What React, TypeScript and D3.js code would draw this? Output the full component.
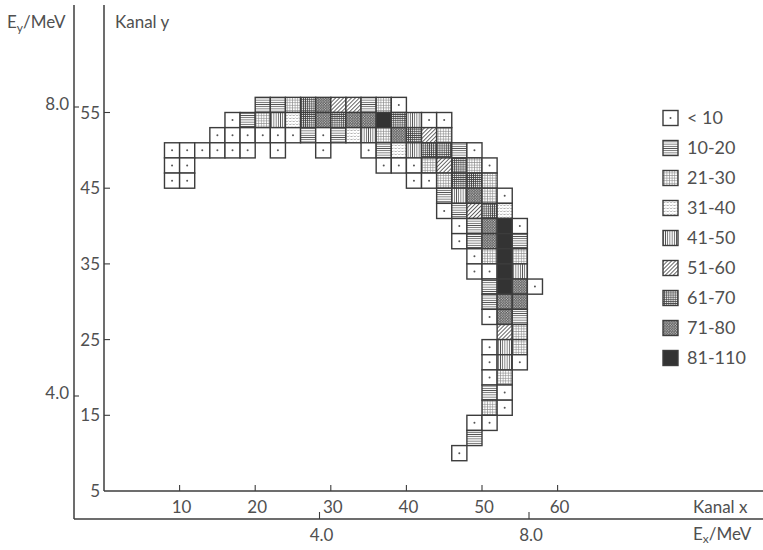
import React from "react";
import * as d3 from "d3";

// Legend classes (counts per 2x2-channel bin)
const levelLabels = ["< 10", "10-20", "21-30", "31-40", "41-50", "51-60", "61-70", "71-80", "81-110"];

// Axis ticks
const xChannelTicks = [10, 20, 30, 40, 50, 60];
const yChannelTicks = [55, 45, 35, 25, 15];
const exTicks = [4.0, 8.0];
const eyTicks = [8.0, 4.0];

// Rows of bins: lower y channel of each row, and [lower x channel, class index]
const rowChannels = [55, 53, 51, 49, 47, 45, 43, 41, 39, 37, 35, 33, 31, 29, 27, 25, 23, 21, 19, 17, 15, 13, 11, 9];
const rowBins: number[][][] = [
  [[20, 1], [22, 1], [24, 2], [26, 6], [28, 7], [30, 5], [32, 5], [34, 1], [36, 2], [38, 0]],
  [[16, 0], [18, 1], [20, 2], [22, 4], [24, 3], [26, 6], [28, 7], [30, 6], [32, 7], [34, 7], [36, 8], [38, 6], [40, 4], [42, 0], [44, 0]],
  [[14, 0], [16, 0], [18, 0], [20, 0], [22, 0], [24, 0], [26, 1], [28, 0], [30, 1], [32, 3], [34, 4], [36, 2], [38, 7], [40, 6], [42, 5], [44, 2]],
  [[8, 0], [10, 0], [12, 0], [14, 0], [16, 0], [18, 0], [22, 0], [28, 0], [34, 0], [36, 1], [38, 3], [40, 4], [42, 6], [44, 6], [46, 1], [48, 0]],
  [[8, 0], [10, 0], [36, 0], [38, 0], [40, 0], [42, 2], [44, 5], [46, 6], [48, 2], [50, 0]],
  [[8, 0], [10, 0], [40, 0], [42, 0], [44, 2], [46, 6], [48, 6], [50, 2]],
  [[44, 1], [46, 4], [48, 7], [50, 2], [52, 0]],
  [[44, 0], [46, 1], [48, 5], [50, 6], [52, 3]],
  [[46, 0], [48, 1], [50, 7], [52, 8], [54, 0]],
  [[46, 0], [48, 1], [50, 7], [52, 8], [54, 1]],
  [[48, 0], [50, 2], [52, 8], [54, 2]],
  [[48, 0], [50, 0], [52, 8], [54, 4]],
  [[50, 1], [52, 8], [54, 7], [56, 0]],
  [[50, 1], [52, 7], [54, 7]],
  [[50, 0], [52, 7], [54, 1]],
  [[52, 5], [54, 2]],
  [[50, 0], [52, 4], [54, 2]],
  [[50, 0], [52, 4], [54, 0]],
  [[50, 0], [52, 2]],
  [[50, 1], [52, 0]],
  [[50, 2], [52, 0]],
  [[48, 0], [50, 0]],
  [[48, 1]],
  [[46, 0]],
];

const W = 763;
const H = 550;
const FONT = "Lato, 'Open Sans', sans-serif";
const INK = "#3c3c3c";
const TXT = "#505050";

const xS = d3.scaleLinear().domain([0, 60]).range([104, 104 + 60 * 7.56]);
const yS = d3.scaleLinear().domain([5, 55]).range([491, 491 - 50 * 7.57]);
const exS = d3.scaleLinear().domain([4, 8]).range([319.5, 529]);
const eyS = d3.scaleLinear().domain([4, 8]).range([396, 107]);

const innerX = xS(0);
const innerY = yS(5);
const outerX = 74;
const outerY = 519;

function fillFor(level: number) {
  if (level === 0) return "#fff";
  if (level === 8) return "#333";
  return `url(#p${level})`;
}

function Cell({ x, y, w, h, level }: { x: number; y: number; w: number; h: number; level: number }) {
  return (
    <g>
      <rect x={x} y={y} width={w} height={h} fill={fillFor(level)} stroke={INK} strokeWidth={1.4} />
      {level === 0 && <circle cx={x + w / 2} cy={y + h / 2} r={1} fill="#555" />}
    </g>
  );
}

export default function App() {
  const cells: React.ReactNode[] = [];
  rowChannels.forEach((yc, ri) => {
    rowBins[ri].forEach(([xc, level]) => {
      const x0 = xS(xc);
      const x1 = xS(xc + 2);
      const y1 = yS(yc + 2);
      const y0 = yS(yc);
      cells.push(<Cell key={`${xc}-${yc}`} x={x0} y={y1} w={x1 - x0} h={y0 - y1} level={level} />);
    });
  });

  const legendX = 663;
  const legendY0 = 118;
  const legendStep = 30;
  const sq = 15;

  return (
    <svg width={W} height={H} style={{ position: "absolute", left: 0, top: 0, background: "#fff" }} fontFamily={FONT}>
      <defs>
        <pattern id="p1" width="2.2" height="2.2" patternUnits="userSpaceOnUse">
          <rect width="2.2" height="2.2" fill="#fff" />
          <line x1="0" y1="1.1" x2="2.2" y2="1.1" stroke="#555" strokeWidth="0.8" />
        </pattern>
        <pattern id="p2" width="2.6" height="2.6" patternUnits="userSpaceOnUse">
          <rect width="2.6" height="2.6" fill="#fff" />
          <line x1="0" y1="1.3" x2="2.6" y2="1.3" stroke="#888" strokeWidth="0.6" />
          <line x1="1.3" y1="0" x2="1.3" y2="2.6" stroke="#888" strokeWidth="0.6" />
        </pattern>
        <pattern id="p3" width="3.4" height="3" patternUnits="userSpaceOnUse">
          <rect width="3.4" height="3" fill="#fff" />
          <line x1="0.3" y1="1.5" x2="2.3" y2="1.5" stroke="#999" strokeWidth="0.7" />
          <line x1="2.9" y1="0" x2="2.9" y2="1" stroke="#bbb" strokeWidth="0.5" />
        </pattern>
        <pattern id="p4" width="2.2" height="2.2" patternUnits="userSpaceOnUse">
          <rect width="2.2" height="2.2" fill="#fff" />
          <line x1="1.1" y1="0" x2="1.1" y2="2.2" stroke="#555" strokeWidth="0.8" />
        </pattern>
        <pattern id="p5" width="2.8" height="2.8" patternUnits="userSpaceOnUse" patternTransform="rotate(45)">
          <rect width="2.8" height="2.8" fill="#fff" />
          <line x1="1.4" y1="0" x2="1.4" y2="2.8" stroke="#555" strokeWidth="0.9" />
        </pattern>
        <pattern id="p6" width="2.1" height="2.1" patternUnits="userSpaceOnUse">
          <rect width="2.1" height="2.1" fill="#fff" />
          <line x1="0" y1="1.05" x2="2.1" y2="1.05" stroke="#444" strokeWidth="0.8" />
          <line x1="1.05" y1="0" x2="1.05" y2="2.1" stroke="#444" strokeWidth="0.8" />
        </pattern>
        <pattern id="p7" width="2.6" height="2.6" patternUnits="userSpaceOnUse">
          <rect width="2.6" height="2.6" fill="#555" />
          <circle cx="0.65" cy="0.65" r="0.6" fill="#e4e4e4" />
          <circle cx="1.95" cy="1.95" r="0.6" fill="#e4e4e4" />
        </pattern>
      </defs>

      {/* axes */}
      <g stroke={INK} strokeWidth={1.5} fill="none">
        <line x1={outerX} y1={5} x2={outerX} y2={outerY} />
        <line x1={outerX} y1={outerY} x2={W} y2={outerY} />
        <line x1={innerX} y1={5} x2={innerX} y2={innerY} />
        <line x1={innerX} y1={innerY} x2={W} y2={innerY} />
        {xChannelTicks.map((t) => (
          <line key={`xt${t}`} x1={xS(t)} y1={innerY} x2={xS(t)} y2={innerY - 6} strokeWidth={1.1} />
        ))}
        {yChannelTicks.map((t) => (
          <line key={`yt${t}`} x1={innerX} y1={yS(t)} x2={innerX + 6} y2={yS(t)} strokeWidth={1.1} />
        ))}
        {exTicks.map((t) => (
          <line key={`ext${t}`} x1={exS(t)} y1={outerY} x2={exS(t)} y2={outerY - 7} strokeWidth={1.1} />
        ))}
        {eyTicks.map((t) => (
          <line key={`eyt${t}`} x1={outerX} y1={eyS(t)} x2={outerX + 5} y2={eyS(t)} strokeWidth={1.1} />
        ))}
      </g>

      {/* tick labels */}
      <g fill={TXT} fontSize={17}>
        {xChannelTicks.map((t) => (
          <text key={`xl${t}`} x={xS(t) + 2} y={513} textAnchor="middle">{t}</text>
        ))}
        {[...yChannelTicks, 5].map((t) => (
          <text key={`yl${t}`} x={100} y={yS(t) + 6} textAnchor="end">{t}</text>
        ))}
        {exTicks.map((t) => (
          <text key={`exl${t}`} x={exS(t) + 2} y={541} textAnchor="middle">{t.toFixed(1)}</text>
        ))}
        {eyTicks.map((t) => (
          <text key={`eyl${t}`} x={69} y={eyS(t) + 3} textAnchor="end">{t.toFixed(1)}</text>
        ))}
      </g>

      {/* axis titles */}
      <g fill={TXT} fontSize={17}>
        <text x={115} y={28}>Kanal y</text>
        <text x={7} y={28}>
          E<tspan fontSize={12} dy={4}>y</tspan><tspan dy={-4}>/MeV</tspan>
        </text>
        <text x={693} y={513}>Kanal x</text>
        <text x={693} y={540}>
          E<tspan fontSize={12} dy={3}>x</tspan><tspan dy={-3}>/MeV</tspan>
        </text>
      </g>

      {/* bins */}
      <g>{cells}</g>

      {/* legend */}
      <g>
        {levelLabels.map((lab, i) => {
          const cy = legendY0 + i * legendStep;
          return (
            <g key={lab}>
              <Cell x={legendX} y={cy - sq / 2} w={sq} h={sq} level={i} />
              <text x={687} y={cy + 6} fill={TXT} fontSize={18}>{lab}</text>
            </g>
          );
        })}
      </g>
    </svg>
  );
}
